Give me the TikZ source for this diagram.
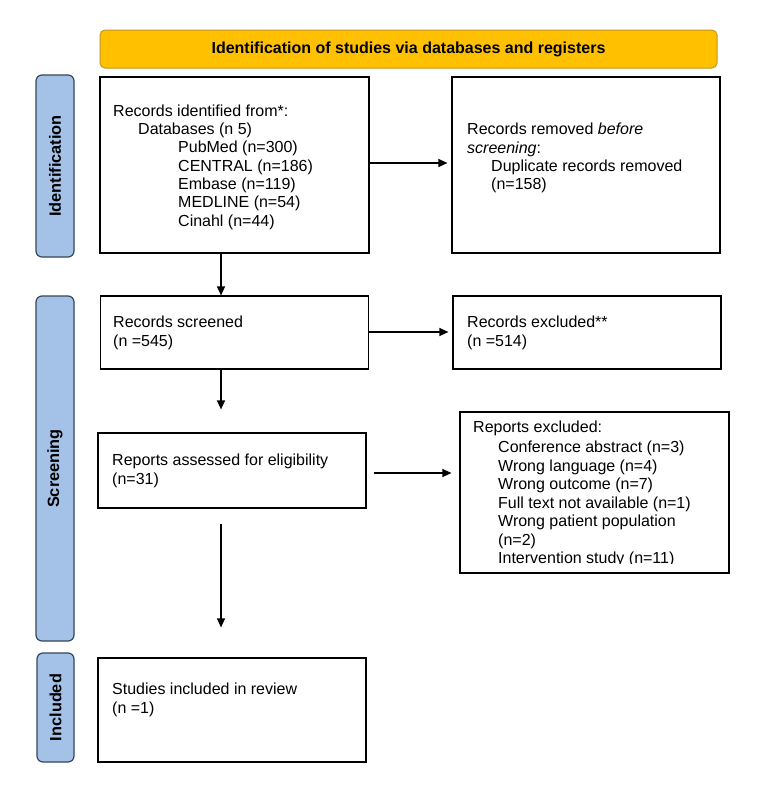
\documentclass[tikz,border=0pt]{standalone}
\usepackage{fontspec}
\setmainfont{Liberation Sans}
\usetikzlibrary{arrows.meta}
\definecolor{hdrfill}{RGB}{255,192,0}
\definecolor{hdrdraw}{RGB}{196,150,30}
\definecolor{sidefill}{RGB}{164,194,232}
\definecolor{sidedraw}{RGB}{55,70,90}
\begin{document}
\begin{tikzpicture}[x=1pt,y=-1pt,
  box/.style={draw=black,line width=1.2pt,fill=white,inner sep=0pt},
  hdr/.style={draw=hdrdraw,fill=hdrfill,line width=1pt,rounded corners=5pt,inner sep=0pt,
    font=\fontsize{16}{18}\selectfont\bfseries},
  side/.style={draw=sidedraw,fill=sidefill,line width=1.2pt,rounded corners=6pt,inner sep=0pt,
    rotate=90,font=\fontsize{16.3}{18}\selectfont\bfseries},
  txt/.style={anchor=north west,inner sep=0pt,align=left,font=\fontsize{16}{18.3}\selectfont},
  arr/.style={-{Triangle[length=9pt,width=8pt]},line width=1.3pt}]
\useasboundingbox[fill=white] (0,0) rectangle (774,795);

% header
\node[hdr,minimum width=617pt,minimum height=38pt] (hd) at (408.5,49) {Identification of studies via databases and registers};

% side labels
\node[side,minimum width=182pt,minimum height=38pt] (sid) at (55,166) {Identification};
\node[side,minimum width=345pt,minimum height=38pt] (sscr) at (55,468.5) {Screening};
\node[side,minimum width=109pt,minimum height=37pt] (sinc) at (55.5,707.5) {Included};

% boxes
\node[box,minimum width=269pt,minimum height=176pt] (b1) at (234.5,165) {};
\node[box,minimum width=268pt,minimum height=176pt] (b2) at (586,165) {};
\node[box,minimum width=268pt,minimum height=73pt] (b3) at (234.5,332.5) {};
\node[box,minimum width=268pt,minimum height=73pt] (b4) at (587,332.5) {};
\node[box,minimum width=268pt,minimum height=75pt] (b5) at (232,470.5) {};
\node[box,minimum width=269pt,minimum height=161pt] (b6) at (594.5,492.5) {};
\node[box,minimum width=268pt,minimum height=104pt] (b7) at (232,710) {};

% texts
\node[txt] (t1) at (113,104.5) {Records identified from*:\\
  \hspace*{25pt}Databases (n 5)\\
  \hspace*{65pt}PubMed (n=300)\\
  \hspace*{65pt}CENTRAL (n=186)\\
  \hspace*{65pt}Embase (n=119)\\
  \hspace*{65pt}MEDLINE (n=54)\\
  \hspace*{65pt}Cinahl (n=44)};
\node[txt] (t2) at (467,123) {Records removed \textit{before}\\
  \textit{screening}:\\
  \hspace*{24pt}Duplicate records removed\\
  \hspace*{24pt}(n=158)};
\node[txt] (t3) at (113,316) {Records screened\\(n =545)};
\node[txt] (t4) at (467,316) {Records excluded**\\(n =514)};
\node[txt] (t5) at (112,454) {Reports assessed for eligibility\\(n=31)};
\begin{scope}
\clip (462,414) rectangle (727,563);
\node[txt,font=\fontsize{16}{18.5}\selectfont] (t6) at (473,421) {Reports excluded:\\[1.5pt]
  \hspace*{25pt}Conference abstract (n=3)\\
  \hspace*{25pt}Wrong language (n=4)\\
  \hspace*{25pt}Wrong outcome (n=7)\\
  \hspace*{25pt}Full text not available (n=1)\\
  \hspace*{25pt}Wrong patient population\\
  \hspace*{25pt}(n=2)\\
  \hspace*{25pt}Intervention study (n=11)};
\end{scope}
\node[txt] (t7) at (112,683) {Studies included in review\\(n =1)};

% connectors
\draw[arr,shorten >=4pt] ([yshift=2pt]b1.east) -- ([yshift=2pt]b2.west);
\draw[arr] ([xshift=-13.5pt]b1.south) -- ([xshift=-13.5pt]b3.north);
\draw[arr,shorten >=4pt] ([yshift=0.5pt]b3.east) -- ([yshift=0.5pt]b4.west);
\draw[arr,shorten >=23pt] ([xshift=-13.5pt]b3.south) -- ([xshift=-13.5pt,yshift=-0pt]b3.south |- b5.north);
\draw[arr,shorten <=7pt,shorten >=8pt] ([yshift=-2.5pt]b5.east) -- ([yshift=-2.5pt]b5.east -| b6.west);
\draw[arr,shorten <=15pt,shorten >=30pt] ([xshift=-11pt]b5.south) -- ([xshift=-11pt]b5.south |- b7.north);
\end{tikzpicture}
\end{document}
